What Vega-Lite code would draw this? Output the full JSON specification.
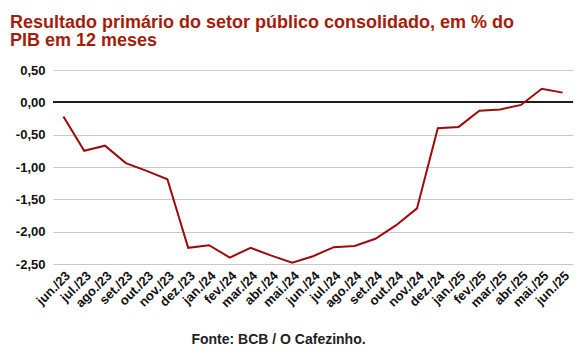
{
  "$schema": "https://vega.github.io/schema/vega-lite/v6.json",
  "width": 520,
  "height": 194,
  "autosize": {"type": "none"},
  "padding": {"left": 53, "top": 70, "right": 14, "bottom": 91},
  "background": "white",
  "title": {
    "text": ["Resultado primário do setor público consolidado, em % do", "PIB em 12 meses"],
    "anchor": "start",
    "frame": "group",
    "font": "Liberation Sans",
    "fontSize": 18,
    "fontWeight": "bold",
    "color": "#a51d0a",
    "lineHeight": 18,
    "dx": -43,
    "offset": 14
  },
  "config": {
    "locale": {"number": {"decimal": ",", "thousands": ".", "grouping": [3], "currency": ["R$", ""], "minus": "-"}},
    "view": {"stroke": null},
    "font": "Liberation Sans",
    "axisY": {
      "labelFont": "Liberation Sans",
      "labelFontSize": 13,
      "labelFontWeight": "bold",
      "labelColor": "#111111",
      "labelPadding": 8,
      "labelOverlap": false,
      "ticks": false,
      "domain": false,
      "grid": true,
      "gridColor": "#c8c8c8",
      "gridWidth": 1
    }
  },
  "data": {
    "values": [
      {"mes": "jun./23", "v": -0.22},
      {"mes": "jul./23", "v": -0.75},
      {"mes": "ago./23", "v": -0.67},
      {"mes": "set./23", "v": -0.94},
      {"mes": "out./23", "v": -1.06},
      {"mes": "nov./23", "v": -1.19},
      {"mes": "dez./23", "v": -2.25},
      {"mes": "jan./24", "v": -2.21},
      {"mes": "fev./24", "v": -2.40},
      {"mes": "mar./24", "v": -2.25},
      {"mes": "abr./24", "v": -2.37},
      {"mes": "mai./24", "v": -2.48},
      {"mes": "jun./24", "v": -2.38},
      {"mes": "jul./24", "v": -2.24},
      {"mes": "ago./24", "v": -2.22},
      {"mes": "set./24", "v": -2.11},
      {"mes": "out./24", "v": -1.90},
      {"mes": "nov./24", "v": -1.64},
      {"mes": "dez./24", "v": -0.40},
      {"mes": "jan./25", "v": -0.38},
      {"mes": "fev./25", "v": -0.13},
      {"mes": "mar./25", "v": -0.11},
      {"mes": "abr./25", "v": -0.04},
      {"mes": "mai./25", "v": 0.21},
      {"mes": "jun./25", "v": 0.15}
    ]
  },
  "layer": [
    {
      "mark": {"type": "rule", "color": "#222222", "strokeWidth": 1},
      "encoding": {
        "y": {
          "datum": 0,
          "type": "quantitative",
          "scale": {"domain": [-2.5, 0.5], "nice": false, "zero": false},
          "axis": {"title": null, "values": [-2.5, -2, -1.5, -1, -0.5, 0, 0.5], "format": ".2f", "labelOverlap": false}
        }
      }
    },
    {
      "mark": {"type": "line", "color": "#9e0b0b", "strokeWidth": 2},
      "encoding": {
        "x": {
          "field": "mes",
          "type": "ordinal",
          "sort": null,
          "axis": {
            "title": "Fonte: BCB / O Cafezinho.",
            "titleFont": "Liberation Sans",
            "titleFontSize": 14,
            "titleFontWeight": "bold",
            "titleColor": "#222222",
            "titleX": 225,
            "titleY": 79,
            "titleAlign": "center",
            "titleBaseline": "alphabetic",
            "labelAngle": -45,
            "labelAlign": "right",
            "labelBaseline": "top",
            "labelFont": "Liberation Sans",
            "labelFontSize": 13,
            "labelFontWeight": "bold",
            "labelColor": "#111111",
            "labelPadding": 5,
            "labelOverlap": false,
            "ticks": false,
            "domain": false,
            "grid": false
          }
        },
        "y": {
          "field": "v",
          "type": "quantitative",
          "scale": {"domain": [-2.5, 0.5], "nice": false, "zero": false},
          "axis": {"title": null, "values": [-2.5, -2, -1.5, -1, -0.5, 0, 0.5], "format": ".2f", "labelOverlap": false}
        }
      }
    }
  ]
}
